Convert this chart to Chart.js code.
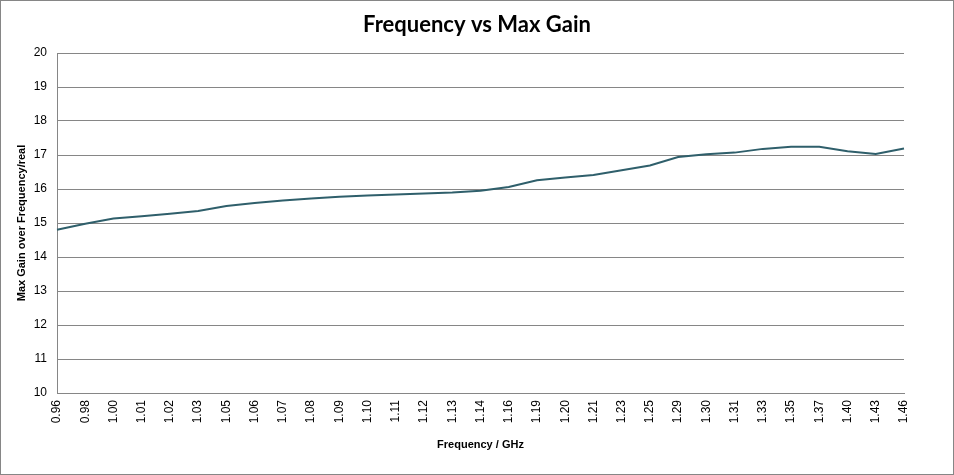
<!DOCTYPE html>
<html>
<head>
<meta charset="utf-8">
<script src="https://cdn.jsdelivr.net/npm/chart.js@4/dist/chart.umd.min.js"></script>
<style>
  html, body { margin: 0; padding: 0; background: #fff; }
  #wrap { width: 954px; height: 475px; }
</style>
</head>
<body>
<div id="wrap"><canvas id="c" width="954" height="475"></canvas></div>
<script>
const frequencies = ['0.96','0.98','1.00','1.01','1.02','1.03','1.05','1.06','1.07','1.08','1.09','1.10','1.11','1.12','1.13','1.14','1.16','1.19','1.20','1.21','1.23','1.25','1.29','1.30','1.31','1.33','1.35','1.37','1.40','1.43','1.46'];
const maxGain = [14.80,14.98,15.13,15.20,15.27,15.35,15.50,15.59,15.66,15.72,15.77,15.81,15.84,15.87,15.90,15.95,16.06,16.26,16.34,16.41,16.55,16.69,16.94,17.02,17.07,17.18,17.24,17.24,17.11,17.03,17.19];
const yMin = 10, yMax = 20, yStep = 1;

const frame = {
  id: 'frame',
  beforeDraw(chart) {
    const ctx = chart.ctx;
    ctx.save();
    ctx.fillStyle = '#ffffff';
    ctx.fillRect(0, 0, chart.width, chart.height);
    ctx.restore();
  },
  afterDraw(chart) {
    const ctx = chart.ctx;
    ctx.save();
    ctx.strokeStyle = '#868686';
    ctx.lineWidth = 1;
    ctx.strokeRect(0.5, 0.5, chart.width - 1, chart.height - 1);
    ctx.restore();
  }
};

new Chart(document.getElementById('c'), {
  type: 'line',
  data: {
    labels: frequencies,
    datasets: [{
      data: maxGain,
      borderColor: '#2f5f6b',
      borderWidth: 2,
      pointRadius: 0,
      tension: 0,
      fill: false
    }]
  },
  options: {
    responsive: false,
    animation: false,
    layout: { padding: 0 },
    plugins: {
      legend: { display: false },
      tooltip: { enabled: false },
      title: {
        display: true,
        text: 'Frequency vs Max Gain',
        color: '#000',
        font: { family: 'Lato', size: 22, weight: 'bold', lineHeight: 1.2 },
        padding: { top: 12, bottom: 14.6 }
      }
    },
    scales: {
      x: {
        type: 'category',
        offset: false,
        grid: { display: false, drawTicks: false },
        border: { display: true, color: '#868686', width: 1 },
        ticks: {
          color: '#000',
          font: { family: 'Liberation Sans', size: 12 },
          minRotation: 90, maxRotation: 90,
          autoSkip: false,
          padding: 7
        },
        title: {
          display: true,
          text: 'Frequency / GHz',
          color: '#000',
          font: { family: 'Liberation Sans', size: 11, weight: 'bold', lineHeight: 1.2 },
          padding: { top: 0, bottom: 23 }
        },
        afterFit(scale) { scale.height = 82; }
      },
      y: {
        min: yMin, max: yMax,
        grid: { color: '#868686', lineWidth: 1, drawTicks: false },
        border: { display: true, color: '#868686', width: 1 },
        ticks: {
          stepSize: yStep,
          color: '#000',
          font: { family: 'Liberation Sans', size: 12 },
          padding: 10
        },
        title: {
          display: true,
          text: 'Max Gain over Frequency/real',
          color: '#000',
          font: { family: 'Liberation Sans', size: 11, weight: 'bold', lineHeight: 1.2 },
          padding: { top: 15, bottom: 0 }
        },
        afterFit(scale) { scale.width = 57; }
      },
      yRight: {
        position: 'right',
        min: yMin, max: yMax,
        grid: { display: false, drawTicks: false },
        border: { display: false },
        ticks: { display: false },
        afterFit(scale) { scale.width = 50; }
      }
    }
  },
  plugins: [frame]
});
</script>
</body>
</html>
